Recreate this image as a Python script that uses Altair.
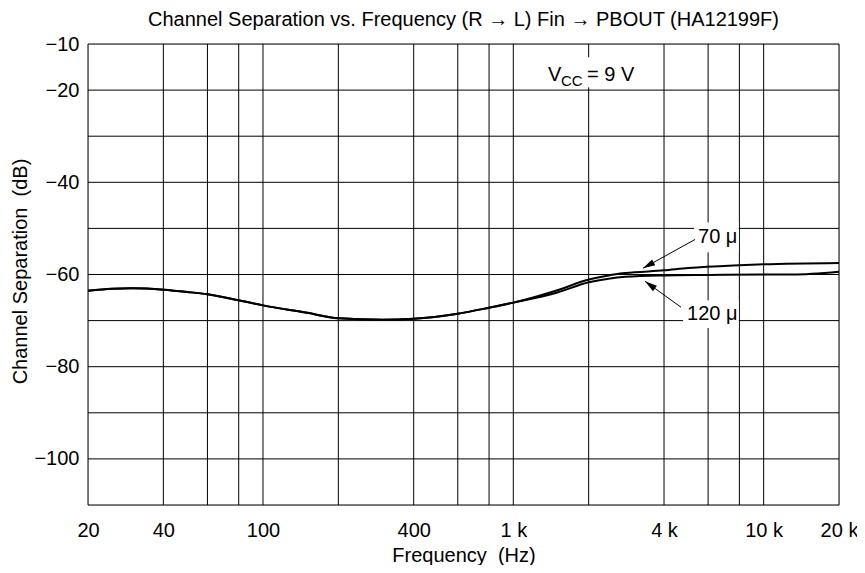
import altair as alt
import pandas as pd

FONT = "Liberation Sans"

# ---- data ----
freq_common = [20, 25, 30, 40, 50, 60, 80, 100, 150, 200, 300, 400, 600, 800, 1000]
sep_common = [-63.5, -63.1, -63.0, -63.3, -63.8, -64.3, -65.6, -66.7, -68.3, -69.5,
              -69.8, -69.6, -68.5, -67.2, -66.1]

freq_70 = [1500, 2000, 2400, 2800, 4000, 5000, 8000, 10000, 20000]
sep_70 = [-63.4, -61.1, -60.2, -59.7, -59.1, -58.6, -58.0, -57.8, -57.5]

freq_120 = [1500, 2000, 2400, 2800, 4000, 6000, 10000, 13000, 20000]
sep_120 = [-63.9, -61.7, -60.9, -60.5, -60.2, -60.1, -60.0, -60.0, -59.4]

x_grid = [20, 40, 60, 80, 100, 200, 400, 600, 800, 1000, 2000, 4000, 6000, 8000, 10000, 20000]
x_ticks = [20, 40, 100, 400, 1000, 4000, 10000, 20000]
y_grid = [-10, -20, -30, -40, -50, -60, -70, -80, -90, -100, -110]
y_ticks = [-10, -20, -40, -60, -80, -100]

title_text = "Channel Separation vs. Frequency (R \u2192 L) Fin \u2192 PBOUT (HA12199F)"
x_title = "Frequency\u00a0 (Hz)"
y_title = "Channel Separation\u00a0 (dB)"

# annotation anchors (Hz, dB)
lab70 = {"f": 5470, "db": -51.9, "t": "70 \u03bc"}
lab120 = {"f": 4942, "db": -68.6, "t": "120 \u03bc"}
arrow70 = {"f": 5322, "db": -52.4, "f2": 3296, "db2": -58.65}
arrow120 = {"f": 4676, "db": -67.1, "f2": 3358, "db2": -61.46}
boxes = pd.DataFrame({
    "f": [1338, 5272, 4764], "f2": [3296, 7950, 7950],
    "db": [-12.9, -48.7, -65.6], "db2": [-19.4, -55.2, -71.6],
})

# ---- build tables ----
rows = []
for name, fs, vs in [("70", freq_70, sep_70), ("120", freq_120, sep_120)]:
    for f, v in zip(freq_common + fs, sep_common + vs):
        rows.append({"series": name, "f": f, "db": v})
curves = pd.DataFrame(rows)

xscale = alt.Scale(type="log", domain=[20, 20000], nice=False)
yscale = alt.Scale(domain=[-110, -10], nice=False, zero=False)

xaxis = alt.Axis(values=x_ticks, grid=False, ticks=False, domain=False,
                 labelExpr="datum.value >= 1000 ? (datum.value / 1000) + ' k' : datum.value",
                 labelFont=FONT, labelFontSize=20, labelColor="black", labelPadding=15,
                 labelFlush=False, labelOverlap=False,
                 title=x_title, titleFont=FONT, titleFontSize=20,
                 titleFontWeight="normal", titleColor="black",
                 titleY=56, titleBaseline="alphabetic")
yaxis = alt.Axis(values=y_ticks, grid=False, ticks=False, domain=False,
                 labelExpr="'\u2212' + abs(datum.value)",
                 labelFont=FONT, labelFontSize=20, labelColor="black", labelPadding=9,
                 title=y_title, titleFont=FONT, titleFontSize=20,
                 titleFontWeight="normal", titleColor="black",
                 titleX=-62, titleY=227, titleBaseline="alphabetic")

vgrid = alt.Chart(pd.DataFrame({"f": x_grid})).mark_rule(color="black", strokeWidth=1).encode(
    x=alt.X("f:Q", scale=xscale, axis=xaxis))
hgrid = alt.Chart(pd.DataFrame({"db": y_grid})).mark_rule(color="black", strokeWidth=1).encode(
    y=alt.Y("db:Q", scale=yscale, axis=yaxis))

rects = alt.Chart(boxes).mark_rect(color="white").encode(
    x=alt.X("f:Q", scale=xscale), x2="f2:Q",
    y=alt.Y("db:Q", scale=yscale), y2="db2:Q")

lines = alt.Chart(curves).mark_line(color="black", strokeWidth=2, interpolate="monotone").encode(
    x=alt.X("f:Q", scale=xscale),
    y=alt.Y("db:Q", scale=yscale),
    detail="series:N")

arrows_df = pd.DataFrame([arrow70, arrow120])
arrow_lines = alt.Chart(arrows_df).mark_rule(color="black", strokeWidth=1).encode(
    x=alt.X("f:Q", scale=xscale), x2="f2:Q",
    y=alt.Y("db:Q", scale=yscale), y2="db2:Q")

HEAD = "M0,0L0.55,2L-0.55,2Z"
head70 = alt.Chart(pd.DataFrame([arrow70])).mark_point(
    shape=HEAD, filled=True, color="black", size=150, angle=241, opacity=1).encode(
    x=alt.X("f2:Q", scale=xscale), y=alt.Y("db2:Q", scale=yscale))
head120 = alt.Chart(pd.DataFrame([arrow120])).mark_point(
    shape=HEAD, filled=True, color="black", size=150, angle=306, opacity=1).encode(
    x=alt.X("f2:Q", scale=xscale), y=alt.Y("db2:Q", scale=yscale))

labels = alt.Chart(pd.DataFrame([lab70, lab120])).mark_text(
    font=FONT, fontSize=20, color="black", align="left", baseline="middle").encode(
    x=alt.X("f:Q", scale=xscale), y=alt.Y("db:Q", scale=yscale), text="t:N")

vcc_main = alt.Chart(pd.DataFrame({"f": [1376, 1970], "db": [-18.13, -18.13],
                                   "t": ["V", "= 9 V"]})).mark_text(
    font=FONT, fontSize=20, color="black", align="left", baseline="alphabetic").encode(
    x=alt.X("f:Q", scale=xscale), y=alt.Y("db:Q", scale=yscale), text="t:N")
vcc_sub = alt.Chart(pd.DataFrame({"f": [1550], "db": [-19.21], "t": ["CC"]})).mark_text(
    font=FONT, fontSize=15, color="black", align="left", baseline="alphabetic").encode(
    x=alt.X("f:Q", scale=xscale), y=alt.Y("db:Q", scale=yscale), text="t:N")

chart = alt.layer(vgrid, hgrid, rects, lines, arrow_lines, head70, head120,
                  labels, vcc_main, vcc_sub).properties(
    width=751, height=461,
    autosize=alt.AutoSizeParams(type="none"),
    padding={"left": 80, "top": 36, "right": 18, "bottom": 60},
    title=alt.TitleParams(text=title_text, font=FONT, fontSize=20, fontWeight="normal",
                          color="black", anchor="middle", offset=4),
).configure_view(stroke="black", strokeWidth=1).configure(background="white")

chart.save("out.html", embed_options={"renderer": "svg", "actions": False})
